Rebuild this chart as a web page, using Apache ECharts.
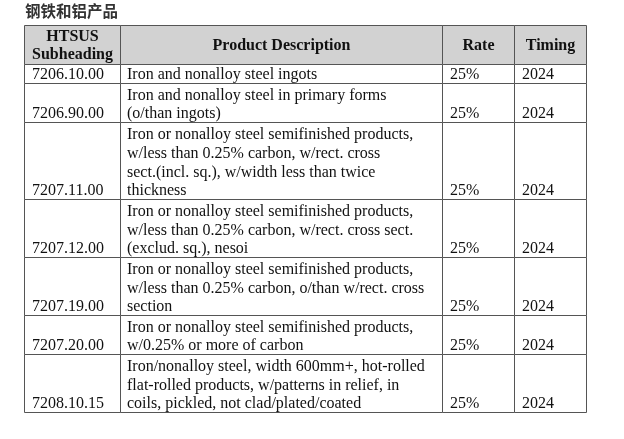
<!DOCTYPE html>
<html>
<head>
<meta charset="utf-8">
<script src="https://cdn.jsdelivr.net/npm/echarts@6/dist/echarts.min.js"></script>
<style>
html,body{margin:0;padding:0;background:#fff;}
#chart{width:624px;height:439px;}
</style>
</head>
<body>
<div id="chart"></div>
<script>
// ---- data ----
const titleText = '钢铁和铝产品';
const headers = ['HTSUS\nSubheading', 'Product Description', 'Rate', 'Timing'];
const codes = ['7206.10.00', '7206.90.00', '7207.11.00', '7207.12.00', '7207.19.00', '7207.20.00', '7208.10.15'];
const descriptions = [
  'Iron and nonalloy steel ingots',
  'Iron and nonalloy steel in primary forms\n(o/than ingots)',
  'Iron or nonalloy steel semifinished products,\nw/less than 0.25% carbon, w/rect. cross\nsect.(incl. sq.), w/width less than twice\nthickness',
  'Iron or nonalloy steel semifinished products,\nw/less than 0.25% carbon, w/rect. cross sect.\n(exclud. sq.), nesoi',
  'Iron or nonalloy steel semifinished products,\nw/less than 0.25% carbon, o/than w/rect. cross\nsection',
  'Iron or nonalloy steel semifinished products,\nw/0.25% or more of carbon',
  'Iron/nonalloy steel, width 600mm+, hot-rolled\nflat-rolled products, w/patterns in relief, in\ncoils, pickled, not clad/plated/coated'
];
const rates = ['25%', '25%', '25%', '25%', '25%', '25%', '25%'];
const timings = ['2024', '2024', '2024', '2024', '2024', '2024', '2024'];

// ---- layout ----
const colEdges = [0, 96, 418, 490, 562];
const FONT = '"Liberation Serif","Times New Roman",serif';

// build row items: [rowIndex, startLine, endLine]  (rowIndex -1 = header)
const rows = [];
let cur = 0;
const headerLines = 2;
rows.push([-1, cur, cur + headerLines]);
cur += headerLines;
descriptions.forEach((d, i) => {
  const n = d.split('\n').length;
  rows.push([i, cur, cur + n]);
  cur += n;
});
const totalLines = cur;

function renderItem(params, api) {
  const idx = api.value(0);
  const y0 = api.value(1), y1 = api.value(2);
  const lineH = api.size([0, 1])[1];
  const children = [];
  for (let c = 0; c < 4; c++) {
    const p0 = api.coord([colEdges[c], y0]);
    const p1 = api.coord([colEdges[c + 1], y1]);
    const x = Math.round(p0[0]) + 0.5, y = Math.round(p0[1]) + 0.5;
    const w = Math.round(p1[0]) - Math.round(p0[0]);
    const h = Math.round(p1[1]) - Math.round(p0[1]);
    children.push({
      type: 'rect',
      shape: { x: x, y: y, width: w, height: h },
      style: { fill: idx < 0 ? '#d2d2d2' : '#fff', stroke: '#555', lineWidth: 1 }
    });
    if (idx < 0) {
      children.push({
        type: 'text',
        style: {
          text: headers[c], x: x + w / 2, y: y + h / 2 + 1,
          align: 'center', verticalAlign: 'middle',
          fontFamily: FONT, fontSize: 16, fontWeight: 'bold',
          lineHeight: lineH - 1, fill: '#111'
        }
      });
    } else {
      const txt = [codes[idx], descriptions[idx], rates[idx], timings[idx]][c];
      children.push({
        type: 'text',
        style: {
          text: txt, x: x + (c === 1 ? 6.5 : 7.5), y: y + h + 1,
          align: 'left', verticalAlign: 'bottom',
          fontFamily: FONT, fontSize: 16,
          lineHeight: lineH - 0.6, fill: '#111'
        }
      });
    }
  }
  return { type: 'group', children: children };
}

const chart = echarts.init(document.getElementById('chart'), null, { renderer: 'canvas' });
chart.setOption({
  animation: false,
  backgroundColor: '#fff',
  title: {
    text: titleText, left: 25, top: 3, padding: 0,
    textStyle: { fontFamily: '"Noto Sans CJK SC"', fontSize: 15.5, fontWeight: 'bold', color: '#333' }
  },
  grid: { left: 24, right: 38, top: 25, bottom: 27 },
  xAxis: { type: 'value', min: 0, max: colEdges[4], show: false },
  yAxis: { type: 'value', min: 0, max: totalLines, inverse: true, show: false },
  series: [{
    type: 'custom',
    renderItem: renderItem,
    data: rows,
    encode: { x: -1, y: [1, 2] },
    clip: false
  }]
});
</script>
</body>
</html>
